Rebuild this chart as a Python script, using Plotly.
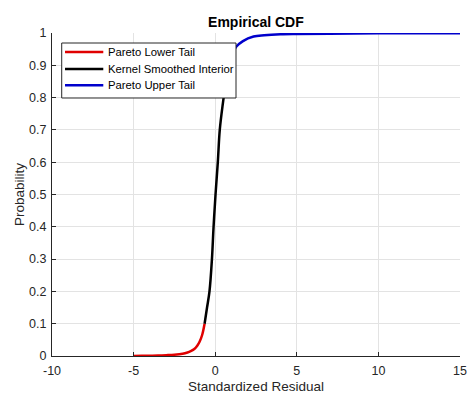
import plotly.graph_objects as go

series_names = ["Pareto Lower Tail", "Kernel Smoothed Interior", "Pareto Upper Tail"]
series_colors = ["#e00000", "#000000", "#0000cc"]

lower_x = [-5, -4.5, -4, -3.5, -3, -2.5, -2, -1.7, -1.5, -1.3, -1.1, -0.95, -0.8, -0.65]
lower_y = [0.0, 0.0005, 0.001, 0.0015, 0.0025, 0.004, 0.007, 0.011, 0.015, 0.021, 0.032, 0.045, 0.065, 0.1]

mid_x = [-0.65, -0.5, -0.35, -0.2, -0.1, 0.02, 0.16, 0.28, 0.49, 0.65, 0.8]
mid_y = [0.1, 0.15, 0.2, 0.3, 0.4, 0.5, 0.6, 0.7, 0.79, 0.85, 0.9]

upper_x = [0.8, 1.0, 1.3, 1.7, 2.35, 3, 4, 5, 7, 10, 15]
upper_y = [0.9, 0.93, 0.958, 0.975, 0.989, 0.993, 0.996, 0.997, 0.998, 0.999, 0.9995]

x_ticks = [-10, -5, 0, 5, 10, 15]
y_ticks = [0, 0.1, 0.2, 0.3, 0.4, 0.5, 0.6, 0.7, 0.8, 0.9, 1]
y_tick_labels = ["0", "0.1", "0.2", "0.3", "0.4", "0.5", "0.6", "0.7", "0.8", "0.9", "1"]

FONT = "Liberation Sans, Arial, sans-serif"
DARK = "#262626"

fig = go.Figure()
for xs, ys, name, col in zip([lower_x, mid_x, upper_x], [lower_y, mid_y, upper_y],
                             series_names, series_colors):
    fig.add_trace(go.Scatter(x=xs, y=ys, mode="lines", name=name, showlegend=False,
                             line=dict(color=col, width=2.5, shape="spline")))

# Legend box drawn MATLAB-style (compact rows)
shapes = [dict(type="rect", xref="paper", yref="paper", x0=0.0238, x1=0.451, y0=0.7988, y1=0.969,
               fillcolor="white", line=dict(color=DARK, width=1), layer="above")]
annotations = []
row_y = [0.9412, 0.8885, 0.8381]
for name, col, ry in zip(series_names, series_colors, row_y):
    shapes.append(dict(type="line", xref="paper", yref="paper", x0=0.0319, x1=0.1257, y0=ry, y1=ry,
                       line=dict(color=col, width=2.5), layer="above"))
    annotations.append(dict(text=name, xref="paper", yref="paper", x=0.1316, y=ry,
                            xanchor="left", yanchor="middle", showarrow=False,
                            font=dict(size=11.3, color="#000000", family=FONT)))

fig.update_layout(
    width=467, height=394,
    margin=dict(l=52, r=7, t=33, b=38, autoexpand=False),
    paper_bgcolor="white", plot_bgcolor="white",
    font=dict(family=FONT, size=12.5, color=DARK),
    title=dict(text="<b>Empirical CDF</b>", x=0.548, xanchor="center",
               yref="container", y=0.945, yanchor="middle",
               font=dict(size=14, color="#000000")),
    showlegend=False,
    hovermode=False,
    shapes=shapes,
    annotations=annotations,
)
fig.update_xaxes(range=[-10, 15], tickvals=x_ticks, ticktext=[str(v) for v in x_ticks],
                 automargin=False, ticklabelstandoff=3,
                 showgrid=True, gridcolor="#e3e3e3", zeroline=False,
                 showline=True, linecolor=DARK, linewidth=1,
                 ticks="inside", ticklen=4, tickcolor=DARK,
                 title=dict(text="Standardized Residual", font=dict(size=13.5), standoff=8))
fig.update_yaxes(range=[0, 1], tickvals=y_ticks, ticktext=y_tick_labels,
                 automargin=False, ticklabelstandoff=2,
                 showgrid=True, gridcolor="#e3e3e3", zeroline=False,
                 showline=True, linecolor=DARK, linewidth=1,
                 ticks="inside", ticklen=4, tickcolor=DARK,
                 title=dict(text="Probability", font=dict(size=13.5), standoff=1))

fig.write_html("out.html", config={"displayModeBar": False},
               post_script="document.body.style.margin='0';document.body.style.overflow='hidden';")
